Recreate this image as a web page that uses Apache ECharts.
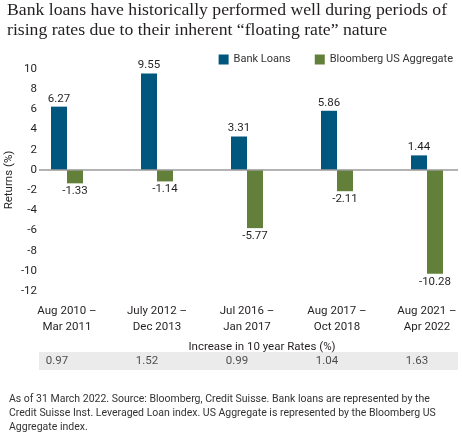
<!DOCTYPE html>
<html>
<head>
<meta charset="utf-8">
<script src="https://cdn.jsdelivr.net/npm/echarts@6/dist/echarts.min.js"></script>
<style>
  html, body { margin: 0; padding: 0; background: #fff; }
  #main { width: 462px; height: 435px; }
</style>
</head>
<body>
<div id="main"></div>
<script>
'use strict'
// data
var periods = ['Aug 2010 –\nMar 2011', 'July 2012 –\nDec 2013', 'Jul 2016 –\nJan 2017', 'Aug 2017 –\nOct 2018', 'Aug 2021 –\nApr 2022'];
var bankLoans = [6.27, 9.55, 3.31, 5.86, 1.44];
var usAggregate = [-1.33, -1.14, -5.77, -2.11, -10.28];
var rateIncrease = [0.97, 1.52, 0.99, 1.04, 1.63];

var sans = 'Roboto, "Liberation Sans", sans-serif';
var txt = '#231f20';

var myChart = echarts.init(document.getElementById('main'), null, {renderer: 'canvas'});

var option = {
    animation: false,
    textStyle: {fontFamily: sans},
    title: [
        {
            text: 'Bank loans have historically performed well during periods of\nrising rates due to their inherent “floating rate” nature',
            left: 2, top: -5,
            textStyle: {fontFamily: '"Liberation Serif", "DejaVu Serif", serif', fontSize: 17.7, fontWeight: 'normal', color: txt, lineHeight: 20}
        },
        {
            text: 'Increase in 10 year Rates (%)',
            left: 257, top: 336, textAlign: 'center',
            textStyle: {fontFamily: sans, fontSize: 11.5, fontWeight: 'normal', color: txt}
        },
        {
            text: 'As of 31 March 2022. Source: Bloomberg, Credit Suisse. Bank loans are represented by the\nCredit Suisse Inst. Leveraged Loan index. US Aggregate is represented by the Bloomberg US\nAggregate index.',
            left: 4, top: 387,
            textStyle: {fontFamily: sans, fontSize: 10.5, fontWeight: 'normal', color: '#333', lineHeight: 14}
        }
    ],
    legend: {
        right: 4, top: 49,
        itemWidth: 10, itemHeight: 10, itemGap: 24,
        icon: 'rect',
        textStyle: {fontFamily: sans, fontSize: 11, color: '#333'},
        data: ['Bank Loans', 'Bloomberg US Aggregate']
    },
    grid: [
        {left: 22, width: 450, top: 69, height: 222, outerBoundsMode: 'none'},
        {left: 12, width: 450, top: 352, height: 18, outerBoundsMode: 'none'}
    ],
    xAxis: [
        {
            type: 'category', data: periods, gridIndex: 0,
            axisLine: {show: false, onZero: false},
            axisTick: {show: false},
            axisLabel: {interval: 0, margin: 12, fontSize: 11.5, lineHeight: 16, color: txt}
        },
        {type: 'category', data: rateIncrease.map(function (r, i) { return i; }), gridIndex: 1, show: false}
    ],
    yAxis: [
        {
            type: 'value', min: -12, max: 10, interval: 2, gridIndex: 0,
            name: 'Returns (%)', nameLocation: 'middle', nameRotate: 90, nameGap: 7,
            nameMoveOverlap: false,
            nameTextStyle: {fontSize: 11.5, color: txt},
            axisLine: {show: false},
            axisTick: {show: false},
            splitLine: {show: false},
            axisLabel: {margin: -15, fontSize: 11.5, color: txt}
        },
        {type: 'value', min: 0, max: 1, gridIndex: 1, show: false}
    ],
    series: [
        {
            name: 'Bank Loans', type: 'bar', data: bankLoans,
            barWidth: 16, barGap: '0%',
            itemStyle: {color: '#01567e'},
            label: {show: true, position: 'top', distance: 2, fontSize: 11.5, color: txt,
                formatter: function (p) { return p.value.toFixed(2); }}
        },
        {
            name: 'Bloomberg US Aggregate', type: 'bar', data: usAggregate,
            barWidth: 16, barGap: '0%',
            itemStyle: {color: '#62803a'},
            label: {show: true, position: 'bottom', distance: 2, fontSize: 11.5, color: txt,
                formatter: function (p) { return p.value.toFixed(2); }}
        },
        {
            type: 'scatter', xAxisIndex: 1, yAxisIndex: 1,
            symbolSize: 0, silent: true,
            data: rateIncrease.map(function (r, i) { return [i, 0.5, r]; }),
            label: {show: true, position: 'inside', fontSize: 11.5, color: txt,
                formatter: function (p) { return p.value[2].toFixed(2); }}
        }
    ]
};
myChart.setOption(option);

// zero line and the grey band behind the rates row
var y0 = myChart.convertToPixel({yAxisIndex: 0}, 0);
myChart.setOption({
    graphic: [
        {type: 'rect', z: -1, shape: {x: 39, y: 352, width: 419, height: 18}, style: {fill: '#ebebeb'}},
        {type: 'line', z: 10, shape: {x1: 39, y1: y0, x2: 458, y2: y0}, style: {stroke: '#9a9a9a', lineWidth: 1.5}}
    ]
});
</script>
</body>
</html>
